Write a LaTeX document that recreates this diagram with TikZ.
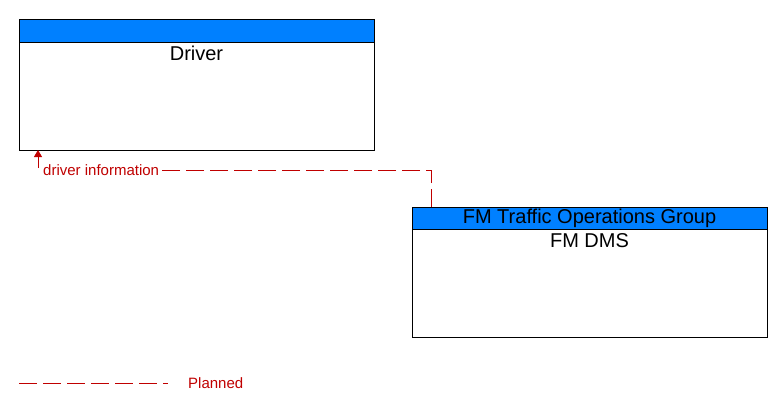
\documentclass[tikz,border=0pt]{standalone}
\usepackage{fontspec}
\setmainfont{Liberation Sans}
\usetikzlibrary{arrows.meta}
\definecolor{hdrblue}{RGB}{0,128,255}
\definecolor{flowred}{RGB}{192,0,0}
\tikzset{
  x=1pt,y=1pt,
  box/.style={draw=black, line width=1pt, fill=white, anchor=north west, inner sep=0pt},
  hdr/.style={draw=black, line width=1pt, fill=hdrblue, anchor=north west, inner sep=0pt},
  title/.style={font=\fontsize{20}{22}\selectfont, text=black, inner sep=0pt},
  planned/.style={draw=flowred, line width=1pt, dash pattern=on 18pt off 6pt},
  flowlabel/.style={font=\fontsize{15}{17}\selectfont, text=flowred, fill=white, inner sep=1pt},
  legendlabel/.style={font=\fontsize{15}{17}\selectfont, text=flowred, inner sep=0pt, anchor=west}
}
\begin{document}
\begin{tikzpicture}
\useasboundingbox (0,0) rectangle (783,-412);
% Driver
\node[box, minimum width=355pt, minimum height=131pt] (driver) at (19,-19) {};
\node[hdr, minimum width=355pt, minimum height=23pt] (driverhdr) at (19,-19) {};
\node[title] (drivertxt) at (196.5,-53) {Driver};
% FM DMS
\node[box, minimum width=355pt, minimum height=130pt] (fm) at (412,-207) {};
\node[hdr, minimum width=355pt, minimum height=22pt] (fmhdr) at (412,-207) {};
\node[title] (fmgroup) at (589.5,-218) {FM Traffic Operations Group};
\node[title] (fmtxt) at (589.5,-241) {FM DMS};
% connector
\coordinate (tip) at (38,-150);
\coordinate (fmtop) at (431,-207);
\coordinate (bend) at (38,-170);
\draw[planned, -{Triangle[length=7pt,width=8pt]}] (fmtop) |- (bend) -- (tip);
\node[flowlabel, anchor=west] (lbl) at (42,-170) {driver information};
% legend
\coordinate (lega) at (19,-383);
\coordinate (legb) at (168,-383);
\draw[planned] (lega) -- (legb);
\node[legendlabel] (legtxt) at (188,-383) {Planned};
\end{tikzpicture}
\end{document}
